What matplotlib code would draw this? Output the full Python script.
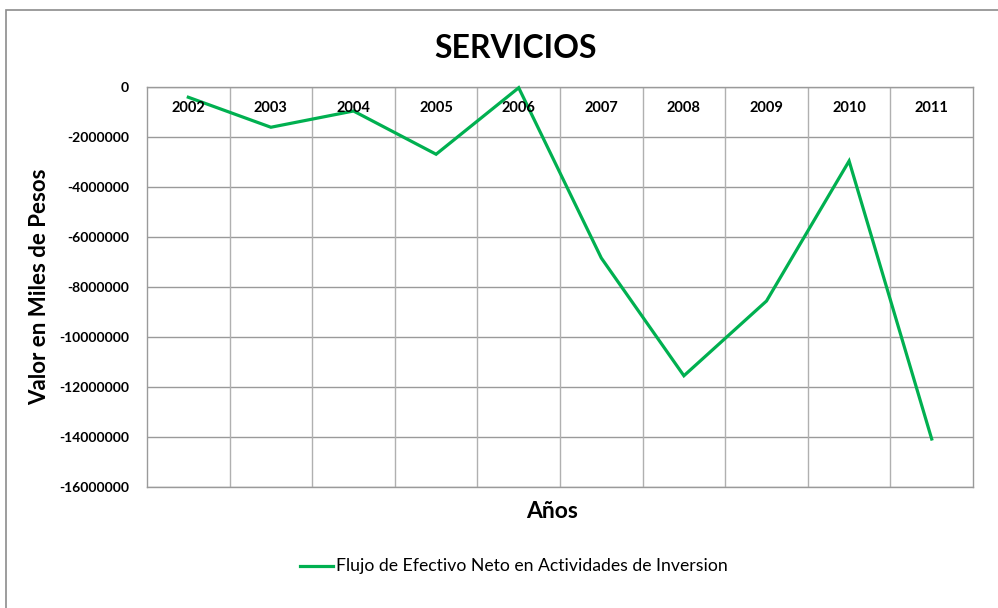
import matplotlib
matplotlib.use("Agg")
import matplotlib.pyplot as plt
from matplotlib.patches import Rectangle
from matplotlib.lines import Line2D

years = ["2002", "2003", "2004", "2005", "2006", "2007", "2008", "2009", "2010", "2011"]
values = [-410000, -1610000, -960000, -2690000, -30000, -6840000, -11550000, -8560000, -2960000, -14080000]
yticks = [0, -2000000, -4000000, -6000000, -8000000, -10000000, -12000000, -14000000, -16000000]
series_name = "Flujo de Efectivo Neto en Actividades de Inversion"

plt.rcParams['font.family'] = ['Lato', 'DejaVu Sans']

W, H = 998, 608
fig = plt.figure(figsize=(W/100, H/100), dpi=100)

# outer frame
fig.patches.append(Rectangle((6/W, -0.1), 1.2, 1 - 10/H + 0.1, transform=fig.transFigure,
                             fill=False, edgecolor='#8c8c8c', linewidth=1.2))

l, t, r, b = 147, 87, 973, 487
ax = fig.add_axes([l/W, 1 - b/H, (r - l)/W, (b - t)/H])

x = list(range(len(years)))
ax.plot(x, values, color='#00B050', linewidth=2.3, solid_joinstyle='miter', zorder=3, clip_on=False)

ax.set_xlim(-0.5, len(years) - 0.5)
ax.set_ylim(-16000000, 0)
ax.set_yticks(yticks)
ax.set_yticklabels([str(v) for v in yticks], fontsize=10, fontweight='bold')
ax.tick_params(axis='y', length=0, pad=13)
ax.set_xticks([])
ax.grid(False)
for v in yticks:
    ax.axhline(v, color='#9a9a9a', linewidth=1, zorder=1)
for i in range(len(years) - 1):
    ax.axvline(i + 0.5, color='#b0b0b0', linewidth=1, zorder=1)
for s in ax.spines.values():
    s.set_color('#9a9a9a')
    s.set_linewidth(1)

for i, yr in enumerate(years):
    ax.text(i, -850000, yr, ha='center', va='center', fontsize=10.5, fontweight='bold', zorder=4)

fig.text(516/W, 1 - 48/H, "SERVICIOS", ha='center', va='center', fontsize=23, fontweight='bold')
fig.text(40/W, 1 - 287/H, "Valor en Miles de Pesos", ha='center', va='center', rotation=90,
         fontsize=16, fontweight='bold')
fig.text(552/W, 1 - 511/H, "Años", ha='center', va='center', fontsize=16.5, fontweight='bold')

fig.lines.append(Line2D([300/W, 333/W], [1 - 566/H, 1 - 566/H], transform=fig.transFigure,
                        color='#00B050', linewidth=2.3))
fig.text(336/W, 1 - 566/H, series_name, ha='left', va='center', fontsize=12.7)

fig.savefig("out.png", dpi=100)
